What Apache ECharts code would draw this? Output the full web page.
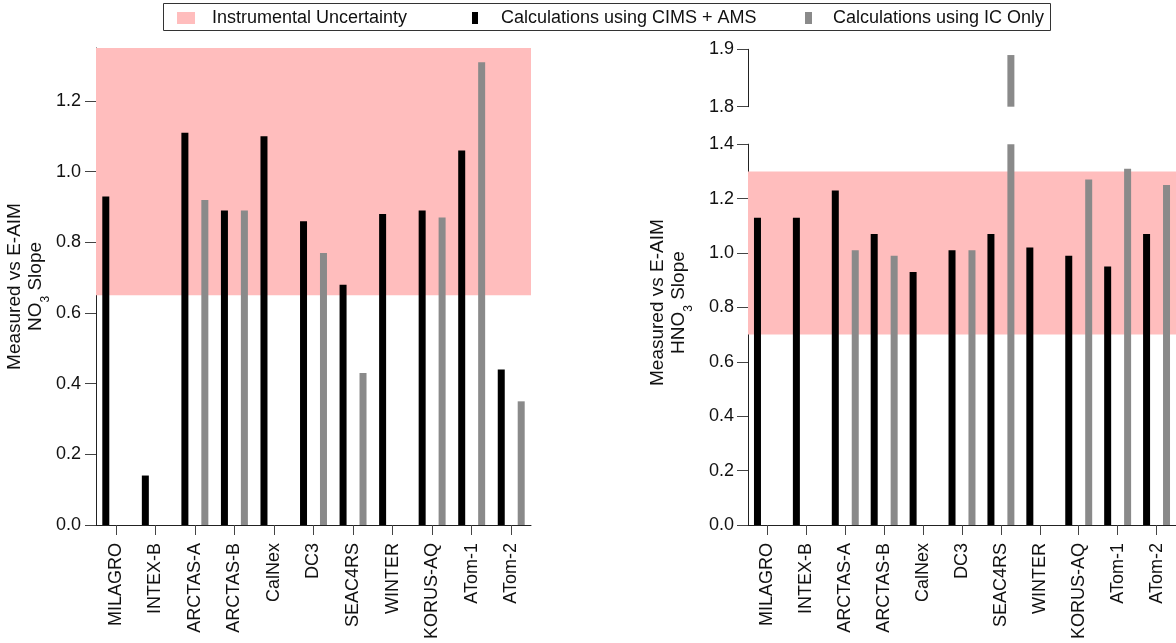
<!DOCTYPE html>
<html>
<head>
<meta charset="utf-8">
<script src="https://cdn.jsdelivr.net/npm/echarts@6/dist/echarts.min.js"></script>
<style>html,body{margin:0;padding:0;background:#fff;}#c{width:1176px;height:643px;}</style>
</head>
<body>
<div id="c"></div>
<script>
var categories = ['MILAGRO','INTEX-B','ARCTAS-A','ARCTAS-B','CalNex','DC3','SEAC4RS','WINTER','KORUS-AQ','ATom-1','ATom-2'];
var no3Cims = [0.93, 0.14, 1.11, 0.89, 1.10, 0.86, 0.68, 0.88, 0.89, 1.06, 0.44];
var no3Ic   = [null, null, 0.92, 0.89, null, 0.77, 0.43, null, 0.87, 1.31, 0.35];
var hno3Cims = [1.13, 1.13, 1.23, 1.07, 0.93, 1.01, 1.07, 1.02, 0.99, 0.95, 1.07];
var hno3Ic   = [null, null, 1.01, 0.99, null, 1.01, 1.89, null, 1.27, 1.31, 1.25];
var no3Uncertainty = [0.65, 1.35];
var hno3Uncertainty = [0.7, 1.3];
var leftTicks = [0, 0.2, 0.4, 0.6, 0.8, 1.0, 1.2];
var rightLowerTicks = [0, 0.2, 0.4, 0.6, 0.8, 1.0, 1.2, 1.4];
var rightUpperTicks = [1.8, 1.9];
var leftRange = [0, 1.35];
var rightLowerRange = [0, 1.4];
var rightUpperRange = [1.8, 1.9];

var FONT = '"Liberation Sans", Arial, sans-serif';
var AX = '#222';
var PINK = '#FFBDBD';
var GRAY = '#8a8a8a';

function val(a){ return a.map(function(v){ return v == null ? '-' : v; }); }
function upper(a){ return a.map(function(v){ return (v != null && v > rightUpperRange[0]) ? v : '-'; }); }
function fmt(v){ return Number(v).toFixed(1); }

function nameRich(){
  return {
    t: {fontSize: 19, lineHeight: 21, fontFamily: FONT, color: '#111', verticalAlign: 'top'},
    s: {fontSize: 12, lineHeight: 26, fontFamily: FONT, color: '#111', verticalAlign: 'bottom'}
  };
}

function yAxis(gridIndex, range, ticks, opts){
  var o = {
    type: 'value', gridIndex: gridIndex, min: range[0], max: range[1],
    axisLine: {show: true, lineStyle: {color: AX, width: 1}},
    axisTick: {show: true, length: 11, customValues: ticks, lineStyle: {color: '#444'}},
    axisLabel: {customValues: ticks, formatter: fmt, fontSize: 18, fontFamily: FONT, color: '#111', margin: 15},
    splitLine: {show: false}
  };
  for (var k in opts) o[k] = opts[k];
  return o;
}

function xAxis(gridIndex, show){
  return {
    type: 'category', gridIndex: gridIndex, data: categories, show: show,
    axisLine: {show: true, onZero: false, lineStyle: {color: AX, width: 1}},
    axisTick: {show: true, alignWithLabel: true, length: 10, lineStyle: {color: '#444'}},
    axisLabel: {rotate: 90, interval: 0, fontSize: 18, fontFamily: FONT, color: '#111', margin: 18}
  };
}

function bar(name, data, color, xi, yi){
  return {
    type: 'bar', name: name, data: data, xAxisIndex: xi, yAxisIndex: yi,
    barWidth: 7, barGap: '185%', z: 3,
    itemStyle: {color: color}, emphasis: {disabled: true}, silent: true
  };
}

function band(range, xi, yi){
  return {
    type: 'line', name: 'Instrumental Uncertainty', data: [], xAxisIndex: xi, yAxisIndex: yi,
    color: PINK, z: 1, silent: true,
    markArea: {silent: true, itemStyle: {color: PINK}, data: [[{yAxis: range[0]}, {yAxis: range[1]}]]}
  };
}

var chart = echarts.init(document.getElementById('c'), null, {renderer: 'canvas'});
chart.setOption({
  animation: false,
  backgroundColor: '#fff',
  grid: [
    {left: 96, top: 48, width: 435, height: 477},
    {left: 748, top: 144.2, width: 435, height: 380.8},
    {left: 748, top: 49.3, width: 435, height: 57.4}
  ],
  legend: [
    {data: ['Instrumental Uncertainty'], left: 177, top: 9, padding: 0, itemWidth: 18, itemHeight: 12, icon: 'rect',
     textStyle: {fontSize: 18, fontFamily: FONT, color: '#111', padding: [0,0,0,12]}, selectedMode: false},
    {data: ['Calculations using CIMS + AMS'], left: 472, top: 9, padding: 0, itemWidth: 6, itemHeight: 12, icon: 'rect',
     textStyle: {fontSize: 18, fontFamily: FONT, color: '#111', padding: [0,0,0,18]}, selectedMode: false},
    {data: ['Calculations using IC Only'], left: 805, top: 9, padding: 0, itemWidth: 7, itemHeight: 12, icon: 'rect',
     textStyle: {fontSize: 18, fontFamily: FONT, color: '#111', padding: [0,0,0,16]}, selectedMode: false}
  ],
  graphic: [
    {type: 'rect', shape: {x: 163.5, y: 3.5, width: 887, height: 27}, style: {fill: 'none', stroke: '#333', lineWidth: 1}, silent: true}
  ],
  xAxis: [xAxis(0, true), xAxis(1, true), xAxis(2, false)],
  yAxis: [
    yAxis(0, leftRange, leftTicks, {
      name: '{t|Measured vs E-AIM}\n{t|NO}{s|3}{t| Slope}', nameLocation: 'middle', nameRotate: 90, nameGap: 41,
      nameTextStyle: {rich: nameRich(), align: 'center'}
    }),
    yAxis(1, rightLowerRange, rightLowerTicks, {
      axisLabel: {customValues: rightLowerTicks, formatter: fmt, fontSize: 18, fontFamily: FONT, color: '#111', margin: 14},
      name: '{t|Measured vs E-AIM}\n{t|HNO}{s|3}{t| Slope}', nameLocation: 'middle', nameRotate: 90, nameGap: 53,
      nameTextStyle: {rich: nameRich(), align: 'center', padding: [0, 0, 0, 64]}
    }),
    yAxis(2, rightUpperRange, rightUpperTicks, {
      axisLabel: {customValues: rightUpperTicks, formatter: fmt, fontSize: 18, fontFamily: FONT, color: '#111', margin: 14}
    })
  ],
  series: [
    band(no3Uncertainty, 0, 0),
    bar('Calculations using CIMS + AMS', val(no3Cims), '#000', 0, 0),
    bar('Calculations using IC Only', val(no3Ic), GRAY, 0, 0),
    band(hno3Uncertainty, 1, 1),
    bar('Calculations using CIMS + AMS', val(hno3Cims), '#000', 1, 1),
    bar('Calculations using IC Only', val(hno3Ic), GRAY, 1, 1),
    bar('Calculations using CIMS + AMS', upper(hno3Cims), '#000', 2, 2),
    bar('Calculations using IC Only', upper(hno3Ic), GRAY, 2, 2)
  ]
});
</script>
</body>
</html>
